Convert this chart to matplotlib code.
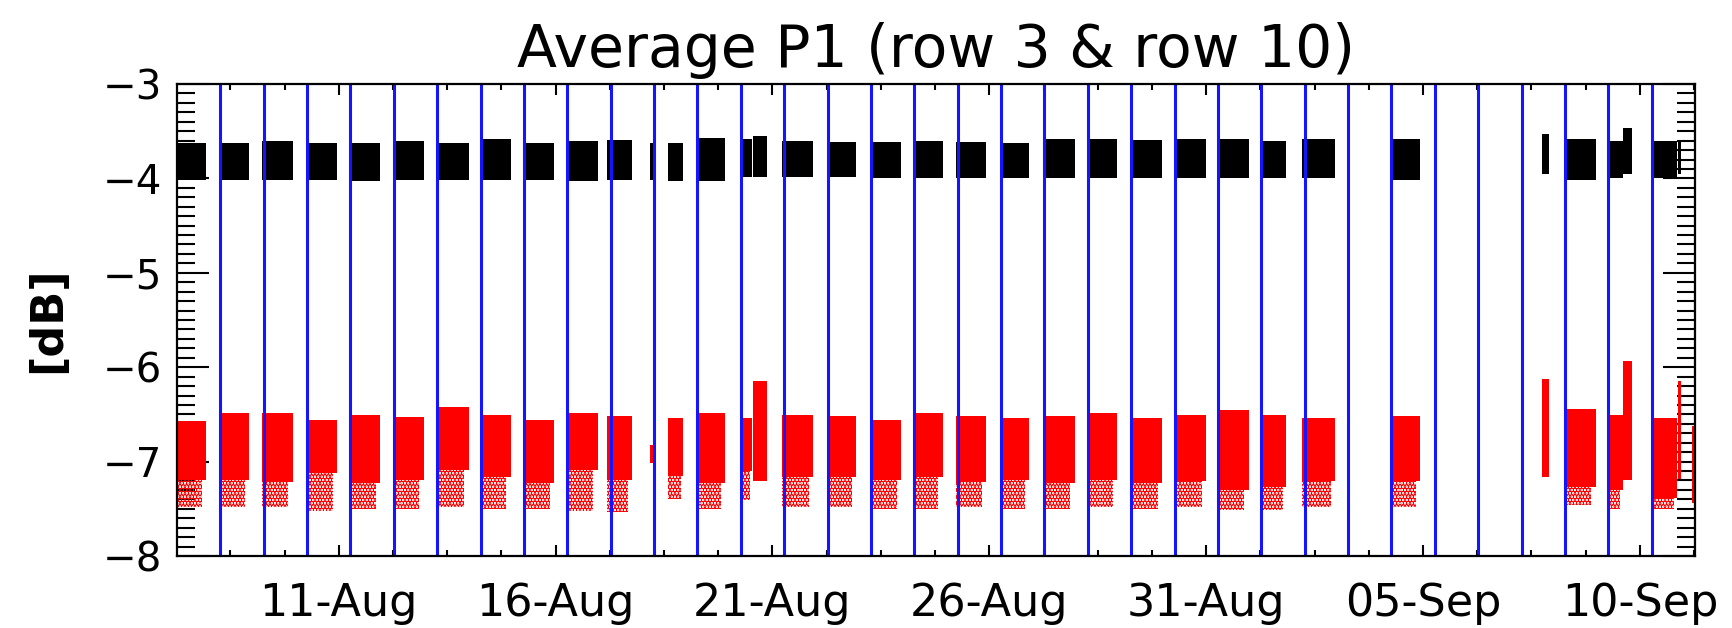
import numpy as np
import matplotlib
matplotlib.use("Agg")
import matplotlib.pyplot as plt
from matplotlib.ticker import FixedLocator, MultipleLocator

plt.rcParams['font.family'] = ['DejaVu Sans']
plt.rcParams['hatch.linewidth'] = 2.6

# ---------------- data (x = day of August; 32 = 01-Sep) ----------------
title = "Average P1 (row 3 & row 10)"
ylabel = "[dB]"
tick_days = [11, 16, 21, 26, 31, 36, 41]
tick_labels = ["11-Aug", "16-Aug", "21-Aug", "26-Aug", "31-Aug", "05-Sep", "10-Sep"]
x_min, x_max = 7.27, 42.27
day_marks = list(np.arange(8, 43) + 0.27)   # daily boundaries (blue lines)

seg_start = [7.27, 8.24, 9.22, 10.27, 11.27, 12.25, 13.29, 14.27, 15.25, 16.26,
             17.19, 18.18, 18.60, 19.26, 20.25, 20.54, 21.21, 22.28, 23.26, 24.24,
             25.22, 26.28, 27.27, 28.26, 29.28, 30.28, 31.26, 32.25, 33.22, 35.27,
             38.74, 39.27, 40.25, 40.62, 41.29, 41.87, 42.20]
seg_end = [7.95, 8.94, 9.94, 10.96, 11.96, 12.96, 14.00, 14.96, 15.97, 16.97,
           17.76, 18.30, 18.93, 19.91, 20.52, 20.88, 21.94, 22.92, 23.97, 24.93,
           25.93, 26.92, 27.97, 28.95, 29.99, 31.00, 31.98, 32.85, 33.98, 35.93,
           38.90, 39.98, 40.60, 40.82, 41.86, 41.95, 42.27]
# row 3 (black)
blk_hi = [-3.62, -3.63, -3.60, -3.62, -3.62, -3.60, -3.62, -3.58, -3.63, -3.60,
          -3.59, -3.63, -3.63, -3.57, -3.58, -3.55, -3.60, -3.61, -3.61, -3.60,
          -3.61, -3.62, -3.58, -3.58, -3.59, -3.58, -3.58, -3.60, -3.58, -3.58,
          -3.53, -3.58, -3.60, -3.47, -3.60, -3.60, np.nan]
blk_lo = [-4.02, -4.02, -4.02, -4.02, -4.03, -4.02, -4.02, -4.02, -4.02, -4.03,
          -4.02, -4.02, -4.03, -4.03, -3.98, -3.98, -3.99, -3.99, -4.00, -4.00,
          -4.00, -4.00, -4.00, -4.00, -4.00, -4.00, -4.00, -4.00, -4.00, -4.02,
          -3.95, -4.02, -4.00, -3.95, -4.00, -3.95, np.nan]
# row 10 (red): dense core and sparse lower tail
red_hi = [-6.57, -6.49, -6.49, -6.56, -6.51, -6.53, -6.42, -6.51, -6.56, -6.49,
          -6.52, -6.82, -6.54, -6.49, -6.54, -6.15, -6.51, -6.52, -6.56, -6.49,
          -6.52, -6.54, -6.52, -6.49, -6.54, -6.51, -6.45, -6.51, -6.54, -6.52,
          -6.12, -6.44, -6.51, -5.93, -6.54, -6.15, -6.62]
red_lo = [-7.19, -7.19, -7.22, -7.12, -7.23, -7.19, -7.09, -7.16, -7.23, -7.09,
          -7.20, -7.02, -7.15, -7.23, -7.10, -7.21, -7.16, -7.16, -7.20, -7.16,
          -7.22, -7.20, -7.23, -7.20, -7.23, -7.21, -7.30, -7.27, -7.21, -7.21,
          -7.16, -7.27, -7.30, -7.20, -7.39, -7.18, -7.44]
red_tail = [-7.48, -7.48, -7.48, -7.52, -7.50, -7.50, -7.48, -7.50, -7.50, -7.52,
            -7.53, -7.02, -7.40, -7.50, -7.41, -7.21, -7.48, -7.48, -7.50, -7.50,
            -7.48, -7.50, -7.50, -7.48, -7.50, -7.48, -7.51, -7.51, -7.48, -7.48,
            -7.16, -7.46, -7.50, -7.20, -7.50, -7.18, -7.44]

# ---------------- figure ----------------
W, H = 1733, 628
fig = plt.figure(figsize=(W / 100, H / 100), dpi=100)
ax = fig.add_axes([177 / W, 1 - 556 / H, (1695 - 177) / W, (556 - 84) / H])

s = np.array(seg_start)
e = np.array(seg_end)
w = e - s
bh, bl = np.array(blk_hi), np.array(blk_lo)
rh, rl, rt = np.array(red_hi), np.array(red_lo), np.array(red_tail)

ok = ~np.isnan(bh)
ax.bar(s[ok], bh[ok] - bl[ok], bottom=bl[ok], width=w[ok], align='edge',
       color='black', linewidth=0, zorder=2)
ax.bar(s, rh - rl, bottom=rl, width=w, align='edge', color='red',
       linewidth=0, zorder=2)
tail = rl - rt > 0
ax.bar(s[tail], rl[tail] - rt[tail], bottom=rt[tail], width=w[tail] * 0.85,
       align='edge', facecolor='none', edgecolor='red', hatch='.....',
       linewidth=0, zorder=2)

ax.vlines(day_marks, -8, -3, color='#1414ff', linewidth=2.2, zorder=3)

ax.set_xlim(x_min, x_max)
ax.set_ylim(-8, -3)

ax.set_xticks(tick_days)
ax.set_xticklabels(tick_labels)
ax.xaxis.set_minor_locator(FixedLocator(list(np.arange(tick_days[0] - 3 * 1.25, x_max, 1.25))))
ax.yaxis.set_major_locator(MultipleLocator(1))
ax.yaxis.set_minor_locator(MultipleLocator(0.1))

ax.tick_params(which='both', direction='in', top=True, right=True, color='black')
ax.tick_params(axis='y', which='major', length=23, width=1.5, labelsize=29, pad=11)
ax.tick_params(axis='y', which='minor', length=13, width=1.5)
ax.tick_params(axis='x', which='major', length=8, width=1.5, labelsize=32, pad=19)
ax.tick_params(axis='x', which='minor', length=4, width=1.5)

for sp in ax.spines.values():
    sp.set_linewidth(1.6)
    sp.set_zorder(4)

ax.set_title(title, fontsize=42, pad=12)
ax.set_ylabel(ylabel, fontsize=32, fontweight='bold')
ax.yaxis.set_label_coords((69 - 177) / (1695 - 177), 0.5)

fig.savefig("out.png", dpi=100)
